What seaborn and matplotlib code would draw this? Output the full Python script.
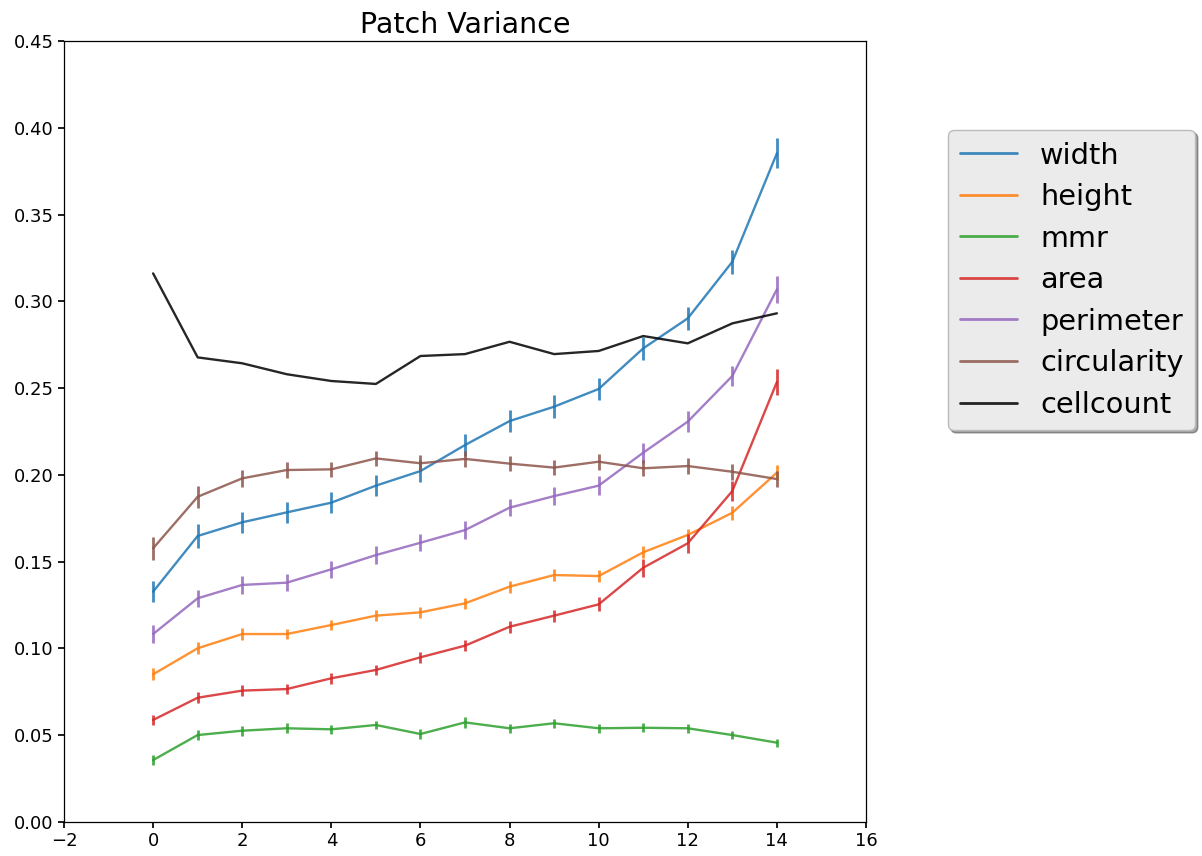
import numpy as np
import pandas as pd
import matplotlib
matplotlib.use("Agg")
import matplotlib.pyplot as plt
import seaborn as sns

steps = list(range(15))

width = [0.1327, 0.1648, 0.1727, 0.1784, 0.1840, 0.1938, 0.2022, 0.2172, 0.2310,
         0.2393, 0.2495, 0.2729, 0.2902, 0.3228, 0.3853]
width_err = [0.0060, 0.0068, 0.0062, 0.0060, 0.0060, 0.0062, 0.0062, 0.0065, 0.0065,
             0.0065, 0.0065, 0.0065, 0.0065, 0.0068, 0.0086]

height = [0.0851, 0.1001, 0.1083, 0.1083, 0.1135, 0.1189, 0.1208, 0.1260, 0.1356,
          0.1423, 0.1417, 0.1554, 0.1654, 0.1782, 0.2013]
height_err = [0.0035, 0.0035, 0.0035, 0.0030, 0.0030, 0.0030, 0.0030, 0.0030, 0.0035,
              0.0035, 0.0035, 0.0035, 0.0035, 0.0040, 0.0045]

mmr = [0.0357, 0.0501, 0.0526, 0.0540, 0.0534, 0.0559, 0.0507, 0.0574, 0.0540,
       0.0569, 0.0540, 0.0543, 0.0540, 0.0501, 0.0457]
mmr_err = [0.0030, 0.0030, 0.0028, 0.0028, 0.0025, 0.0025, 0.0028, 0.0030, 0.0025,
           0.0025, 0.0025, 0.0025, 0.0025, 0.0022, 0.0022]

area = [0.0588, 0.0716, 0.0757, 0.0766, 0.0828, 0.0876, 0.0949, 0.1016, 0.1125,
        0.1189, 0.1254, 0.1465, 0.1606, 0.1907, 0.2535]
area_err = [0.0030, 0.0032, 0.0030, 0.0030, 0.0030, 0.0030, 0.0032, 0.0032, 0.0035,
            0.0035, 0.0040, 0.0053, 0.0055, 0.0060, 0.0077]

perimeter = [0.1083, 0.1289, 0.1366, 0.1379, 0.1456, 0.1538, 0.1609, 0.1682, 0.1811,
             0.1878, 0.1938, 0.2128, 0.2307, 0.2570, 0.3069]
perimeter_err = [0.0050, 0.0050, 0.0050, 0.0050, 0.0050, 0.0050, 0.0050, 0.0050, 0.0050,
                 0.0052, 0.0055, 0.0058, 0.0060, 0.0060, 0.0077]

circularity = [0.1577, 0.1874, 0.1980, 0.2028, 0.2032, 0.2095, 0.2067, 0.2092, 0.2065,
               0.2042, 0.2076, 0.2038, 0.2051, 0.2018, 0.1976]
circularity_err = [0.0065, 0.0064, 0.0050, 0.0045, 0.0045, 0.0045, 0.0045, 0.0045, 0.0045,
                   0.0045, 0.0045, 0.0045, 0.0045, 0.0045, 0.0045]

cellcount = [0.3161, 0.2677, 0.2643, 0.2580, 0.2541, 0.2524, 0.2685, 0.2696, 0.2767,
             0.2696, 0.2714, 0.2800, 0.2758, 0.2873, 0.2931]

names = ["width", "height", "mmr", "area", "perimeter", "circularity", "cellcount"]
values = [width, height, mmr, area, perimeter, circularity, cellcount]
errors = [width_err, height_err, mmr_err, area_err, perimeter_err, circularity_err, None]
colors = ["#1f77b4", "#ff7f0e", "#2ca02c", "#d62728", "#9467bd", "#8c564b", "black"]

df = pd.concat(
    [pd.DataFrame({"step": steps, "variance": v, "feature": n}) for n, v in zip(names, values)],
    ignore_index=True,
)

sns.set_theme(style="ticks")
plt.rcParams["font.family"] = ["DejaVu Sans"]
plt.rcParams["text.color"] = "black"

fig = plt.figure(figsize=(12.02, 8.56), dpi=100)
ax = fig.add_axes([64 / 1202, 34 / 856, 802 / 1202, 781 / 856])

palette = dict(zip(names, colors))
sns.lineplot(data=df, x="step", y="variance", hue="feature", hue_order=names,
             palette=palette, linewidth=1.7, alpha=0.85, ax=ax)

for n, v, e, c in zip(names, values, errors, colors):
    if e is None:
        continue
    ax.errorbar(steps, v, yerr=e, fmt="none", ecolor=c, elinewidth=2.0,
                capsize=0, alpha=0.85)

ax.set_xlim(-2, 16)
ax.set_ylim(0, 0.45)
ax.set_xticks(np.arange(-2, 17, 2))
ax.set_yticks(np.arange(0, 0.46, 0.05))
ax.yaxis.set_major_formatter(matplotlib.ticker.FormatStrFormatter("%.2f"))
ax.tick_params(labelsize=13, colors="black", length=4)
ax.set_xlabel("")
ax.set_ylabel("")
ax.set_title("Patch Variance", fontsize=20.5, pad=6, color="black")
for s in ax.spines.values():
    s.set_color("black")
    s.set_linewidth(0.9)

handles, labels = ax.get_legend_handles_labels()
leg = ax.legend(handles, labels, loc="upper left",
                bbox_to_anchor=(948 / 1202, 1 - 130 / 856),
                bbox_transform=fig.transFigure, borderaxespad=0,
                fontsize=20.7, handlelength=2.0, frameon=True, shadow=True,
                fancybox=True, facecolor="#ebebeb", edgecolor="#bbbbbb",
                framealpha=1.0, labelspacing=0.47)
for line in leg.get_lines():
    line.set_linewidth(2.0)
    line.set_alpha(0.85)
for t in leg.get_texts():
    t.set_color("black")

fig.savefig("out.png", dpi=100)
